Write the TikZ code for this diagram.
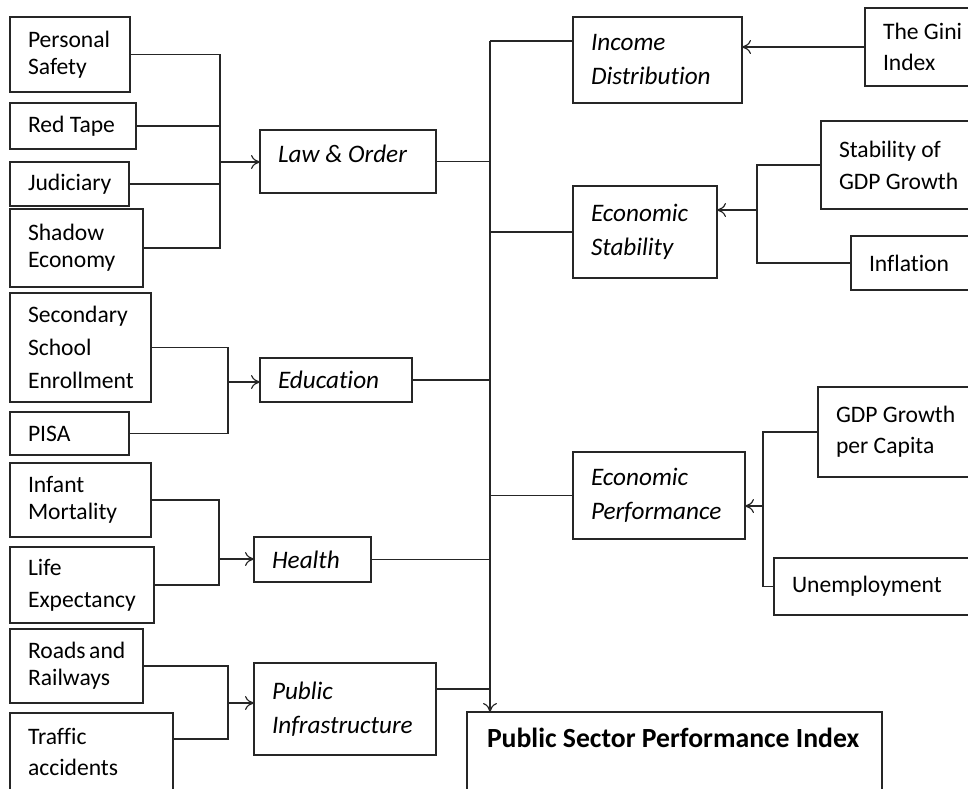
\documentclass[tikz,border=0pt]{standalone}
\usepackage{fontspec}
\setmainfont{Carlito}[Ligatures=NoCommon]
\usetikzlibrary{arrows.meta}

\begin{document}
\begin{tikzpicture}
[x=0.5pt,y=-0.5pt,%
  linedecorate/.style={-,line width=0.6pt,draw=black!85},%
  arrowdecorate/.style={-{To[length=4.5pt,width=7pt]},line width=0.6pt,draw=black!85},%
  boxdecorate/.style={shape=rectangle,draw=black!85,line width=0.7pt,anchor=north west,inner xsep=9pt,inner ysep=0pt,outer sep=0pt,align=flush left,font=\fontsize{11.8}{13.5}\selectfont},%
  factordecorate/.style={boxdecorate,font=\fontsize{12.6}{14}\selectfont\itshape}]
\useasboundingbox (0,0) rectangle (968,788);
\clip (0,0) rectangle (968,788);
%% indicator boxes
%% name / left / top / width / height / text (all in pixels of the sketch)
\foreach \nodename/\x/\y/\w/\h/\txt in {
safety/10/17/120/75/{Personal\\Safety}, redtape/10/103/126/46/{Red~Tape},
judiciary/10/162/119/44/{Judiciary}, shadow/10/209/133/78/{Shadow\\Economy},
school/10/293/141/109/{Secondary\\[3pt]School\\[3pt]Enrollment}, pisa/10/412/119/43/{PISA},
infant/10/463/141/74/{Infant\\Mortality}, life/10/547/144/76/{Life\\[2.5pt]Expectancy},
roads/10/629/133/74/{Roads~and\\Railways}, traffic/10/713/163/78/{Traffic\\[2pt]accidents},
gini/865/8/120/78/{The~Gini\\[2pt]Index}, growthstab/821/121/160/88/{Stability~of\\[2.5pt]GDP~Growth},
inflation/851/236/130/54/{Inflation}, growthcap/818/387/160/90/{GDP~Growth\\[2pt]per~Capita},
unemploy/774/558/210/57/{Unemployment}}
{
  \node (\nodename) at (\x,\y) [boxdecorate,minimum height=0.5pt*\h,text width={0.5pt*(\w-36)}] {\txt};
}
%% sub-indices
\foreach \nodename/\x/\y/\w/\h/\txt in {
law/260/130/176/63/{Law~\&~Order\\[-6pt]\mbox{}}, education/260/358/152/44/{Education},
health/254/537/117/45/{Health}, infra/254/663/182/92/{Public\\[3pt]Infrastructure},
income/573/17/169/86/{Income\\[3pt]Distribution}, stability/573/186/144/92/{Economic\\[3pt]Stability},
performance/573/452/172/87/{Economic\\[3pt]Performance}}
{
  \node (\nodename) at (\x,\y) [factordecorate,minimum height=0.5pt*\h,text width={0.5pt*(\w-36)}] {\txt};
}
%% the index itself
\node (pspi) at (467,712) [boxdecorate,inner xsep=10pt,inner ysep=8pt,text width={0.5pt*(415-40)},text depth=50pt,font=\fontsize{13.85}{16}\selectfont\bfseries] {Public~Sector~Performance~Index};
%% bus points
\coordinate (lawbus) at (220,162);
\coordinate (edubus) at (228,382);
\coordinate (healthbus) at (219,559);
\coordinate (infrabus) at (228,703);
\coordinate (stabbus) at (757,210);
\coordinate (perfbus) at (763,506);
\coordinate (bustop) at (490,41);
%% edges or lines
\foreach \startnode/\busname in {
safety/lawbus, redtape/lawbus, judiciary/lawbus, shadow/lawbus,
school/edubus, pisa/edubus, infant/healthbus, life/healthbus, roads/infrabus}
{
  \draw[linedecorate] (\startnode.east) -| (\busname);
}
\draw[linedecorate] ([yshift=6.5pt]traffic.east) -| (infrabus);
\foreach \startnode/\busname in {
growthstab/stabbus, inflation/stabbus, growthcap/perfbus, unemploy/perfbus}
{
  \draw[linedecorate] (\startnode.west) -| (\busname);
}
\foreach \busname/\endnode in {lawbus/law, edubus/education, healthbus/health, infrabus/infra}
{
  \draw[arrowdecorate] (\busname) -- (\busname -| \endnode.west);
}
\foreach \busname/\endnode in {stabbus/stability, perfbus/performance}
{
  \draw[arrowdecorate] (\busname) -- (\busname -| \endnode.east);
}
\draw[arrowdecorate] (gini.west) -- (gini.west -| income.east);
%% main bus
\foreach \startnode in {law, education, health}
{
  \draw[linedecorate] (\startnode.east) -- (\startnode.east -| bustop);
}
\draw[linedecorate] ([yshift=10pt]infra.east) -- ([yshift=10pt]infra.east -| bustop);
\foreach \endnode in {stability, performance}
{
  \draw[linedecorate] (bustop |- \endnode.west) -- (\endnode.west);
}
\draw[linedecorate] (bustop) -- (bustop -| income.west);
\draw[arrowdecorate] (bustop) -- (bustop |- pspi.north);
\end{tikzpicture}
\end{document}
